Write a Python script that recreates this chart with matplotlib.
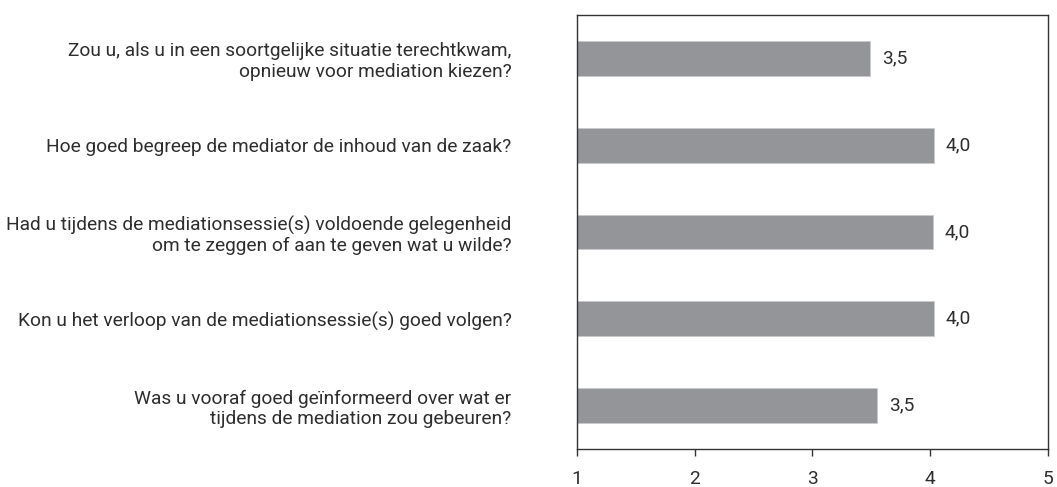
import matplotlib.pyplot as plt
from matplotlib import font_manager

questions = [
    "Zou u, als u in een soortgelijke situatie terechtkwam,\nopnieuw voor mediation kiezen?",
    "Hoe goed begreep de mediator de inhoud van de zaak?",
    "Had u tijdens de mediationsessie(s) voldoende gelegenheid\nom te zeggen of aan te geven wat u wilde?",
    "Kon u het verloop van de mediationsessie(s) goed volgen?",
    "Was u vooraf goed geïnformeerd over wat er\ntijdens de mediation zou gebeuren?",
]
scores = [3.49, 4.03, 4.02, 4.03, 3.55]
x_ticks = [1, 2, 3, 4, 5]

names = {f.name for f in font_manager.fontManager.ttflist}
preferred = ["Roboto", "Liberation Sans", "DejaVu Sans"]
family = next(n for n in preferred if n in names or n == "DejaVu Sans")
plt.rcParams["font.family"] = [family, "DejaVu Sans"]

text_color = "#2e2e2e"
bar_color = "#939598"
fs = 13.8

fig = plt.figure(figsize=(10.57, 4.87), dpi=100)
ax = fig.add_axes([576.7 / 1057, 1 - 449 / 487, 471.3 / 1057, 434 / 487])

ypos = list(range(len(questions)))
ax.barh(ypos, [s - 1 for s in scores], left=1, height=0.4, color=bar_color,
        edgecolor="#c8c9cb", linewidth=0.6)

for y, s in zip(ypos, scores):
    ax.text(s + 0.1, y, f"{s:.1f}".replace(".", ","), va="center", ha="left",
            fontsize=fs, color=text_color)

ax.set_xlim(1, 5)
ax.set_ylim(len(questions) - 0.5, -0.5)
ax.set_xticks(x_ticks)
ax.set_xticklabels([str(t) for t in x_ticks], fontsize=fs, color=text_color)
ax.set_yticks(ypos)
ax.set_yticklabels(questions, fontsize=fs, color=text_color, ha="right",
                   multialignment="right", linespacing=1.2)
ax.tick_params(axis="y", length=0, pad=47)
ax.tick_params(axis="x", direction="out", length=5, width=1, color="#333333",
               pad=10)

for sp in ax.spines.values():
    sp.set_color("#333333")
    sp.set_linewidth(1.0)

fig.savefig("out.png", dpi=100)
